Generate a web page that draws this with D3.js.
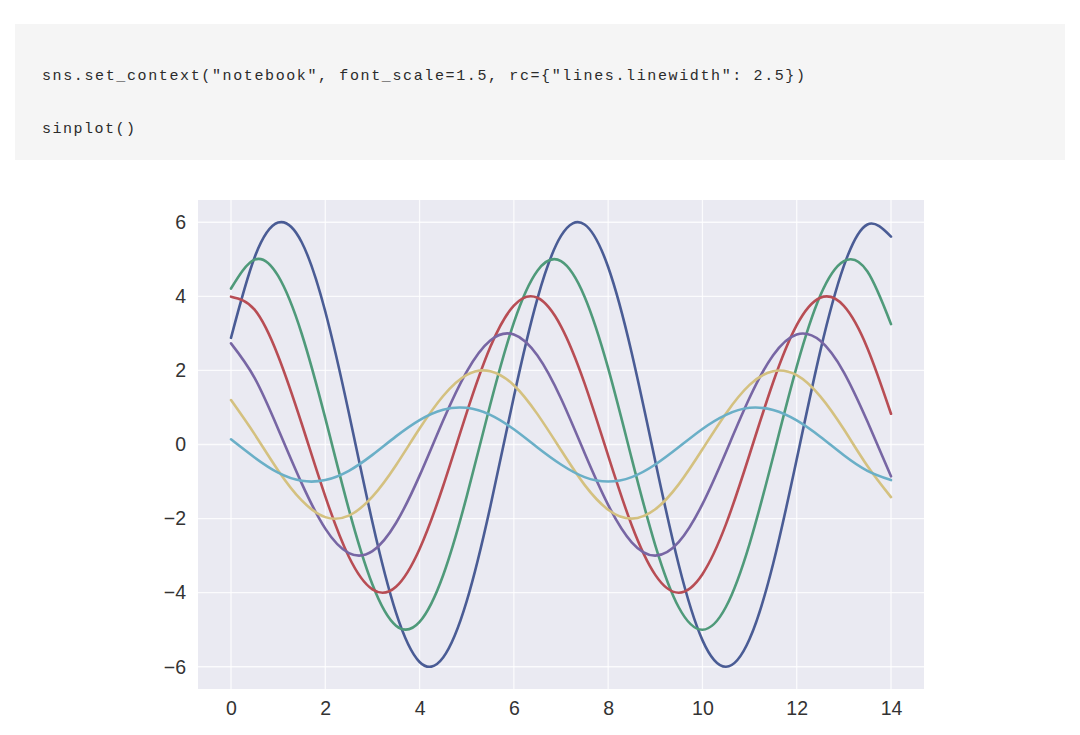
<!DOCTYPE html>
<html>
<head>
<meta charset="utf-8">
<script src="https://cdn.jsdelivr.net/npm/d3@7"></script>
<style>
  html, body { margin: 0; padding: 0; background: #ffffff; }
  svg { display: block; }
</style>
</head>
<body>
<svg id="chart" width="1080" height="735"></svg>
<script>
// ---- data ----
const codeLines = [
  'sns.set_context("notebook", font_scale=1.5, rc={"lines.linewidth": 2.5})',
  'sinplot()'
];
const xValues = [0,0.5,1,1.5,2,2.5,3,3.5,4,4.5,5,5.5,6,6.5,7,7.5,8,8.5,9,9.5,10,10.5,11,11.5,12,12.5,13,13.5,14];
const series1 = [2.88,5.05,5.99,5.46,3.59,0.85,-2.10,-4.54,-5.87,-5.75,-4.23,-1.68,1.29,3.94,5.63,5.94,4.79,2.47,-0.45,-3.26,-5.28,-6.00,-5.25,-3.22,-0.40,2.52,4.82,5.94,5.61];
const series2 = [4.21,4.99,4.55,2.99,0.71,-1.75,-3.78,-4.89,-4.79,-3.53,-1.40,1.08,3.29,4.69,4.95,3.99,2.06,-0.38,-2.72,-4.40,-5.00,-4.38,-2.68,-0.33,2.10,4.02,4.95,4.67,3.25];
const series3 = [3.99,3.64,2.39,0.56,-1.40,-3.03,-3.91,-3.84,-2.82,-1.12,0.86,2.63,3.75,3.96,3.19,1.65,-0.30,-2.18,-3.52,-4.00,-3.50,-2.15,-0.27,1.68,3.22,3.96,3.74,2.60,0.83];
const series4 = [2.73,1.80,0.42,-1.05,-2.27,-2.93,-2.88,-2.12,-0.84,0.65,1.97,2.81,2.97,2.40,1.24,-0.23,-1.63,-2.64,-3.00,-2.63,-1.61,-0.20,1.26,2.41,2.97,2.80,1.95,0.62,-0.86];
const series5 = [1.20,0.28,-0.70,-1.51,-1.96,-1.92,-1.41,-0.56,0.43,1.31,1.88,1.98,1.60,0.82,-0.15,-1.09,-1.76,-2.00,-1.75,-1.07,-0.13,0.84,1.61,1.98,1.87,1.30,0.41,-0.58,-1.42];
const series6 = [0.14,-0.35,-0.76,-0.98,-0.96,-0.71,-0.28,0.22,0.66,0.94,0.99,0.80,0.41,-0.08,-0.54,-0.88,-1.00,-0.88,-0.54,-0.07,0.42,0.80,0.99,0.93,0.65,0.21,-0.29,-0.71,-0.96];
const xTicks = [0,2,4,6,8,10,12,14];
const yTicks = [-6,-4,-2,0,2,4,6];
const seriesColors = ["#4A5C95", "#4F9A7A", "#B84D54", "#7766A4", "#D4C180", "#6AAFC7"];

// ---- layout ----
const svg = d3.select("#chart");
const plot = { left: 198, right: 924, top: 200, bottom: 689 };

// code block
svg.append("rect")
  .attr("x", 15).attr("y", 24).attr("width", 1050).attr("height", 136)
  .attr("fill", "#f5f5f5");
const codeY = [80, 133];
const codeW = [763, 93];
codeLines.forEach((t, i) => {
  svg.append("text")
    .attr("x", 42).attr("y", codeY[i])
    .attr("font-family", "'Liberation Mono', 'DejaVu Sans Mono', monospace")
    .attr("font-size", 15)
    .attr("fill", "#2b2b2b")
    .attr("textLength", codeW[i])
    .attr("lengthAdjust", "spacing")
    .text(t);
});

const x = d3.scaleLinear().domain([-0.7, 14.7]).range([plot.left, plot.right]);
const y = d3.scaleLinear().domain([-6.6, 6.6]).range([plot.bottom, plot.top]);

// axes background
svg.append("rect")
  .attr("x", plot.left).attr("y", plot.top)
  .attr("width", plot.right - plot.left).attr("height", plot.bottom - plot.top)
  .attr("fill", "#EAEAF2");

// grid
const g = svg.append("g");
g.selectAll("line.vx").data(xTicks).join("line")
  .attr("x1", d => x(d)).attr("x2", d => x(d))
  .attr("y1", plot.top).attr("y2", plot.bottom)
  .attr("stroke", "#ffffff").attr("stroke-width", 1.3).attr("stroke-opacity", 0.8);
g.selectAll("line.hy").data(yTicks).join("line")
  .attr("y1", d => y(d)).attr("y2", d => y(d))
  .attr("x1", plot.left).attr("x2", plot.right)
  .attr("stroke", "#ffffff").attr("stroke-width", 1.3).attr("stroke-opacity", 0.8);

// tick labels via d3 axes (no domain / tick lines)
const fmt = d => (d < 0 ? "\u2212" + Math.abs(d) : String(d));
const xAxis = svg.append("g")
  .attr("transform", `translate(0,${plot.bottom})`)
  .call(d3.axisBottom(x).tickValues(xTicks).tickFormat(fmt).tickSize(0).tickPadding(12));
const yAxis = svg.append("g")
  .attr("transform", `translate(${plot.left},0)`)
  .call(d3.axisLeft(y).tickValues(yTicks).tickFormat(fmt).tickSize(0).tickPadding(12));
[xAxis, yAxis].forEach(a => {
  a.select(".domain").remove();
  a.selectAll("text")
    .attr("font-family", "'Liberation Sans', Arial, sans-serif")
    .attr("font-size", 19.5)
    .attr("fill", "#333333");
});

// lines
const allSeries = [series1, series2, series3, series4, series5, series6];
const line = d3.line()
  .x((d, i) => x(xValues[i]))
  .y(d => y(d))
  .curve(d3.curveNatural);
svg.append("clipPath").attr("id", "clip").append("rect")
  .attr("x", plot.left).attr("y", plot.top)
  .attr("width", plot.right - plot.left).attr("height", plot.bottom - plot.top);
svg.append("g").attr("clip-path", "url(#clip)")
  .selectAll("path").data(allSeries).join("path")
  .attr("d", d => line(d))
  .attr("fill", "none")
  .attr("stroke", (d, i) => seriesColors[i])
  .attr("stroke-width", 2.6)
  .attr("stroke-linecap", "round")
  .attr("stroke-linejoin", "round");
</script>
</body>
</html>
